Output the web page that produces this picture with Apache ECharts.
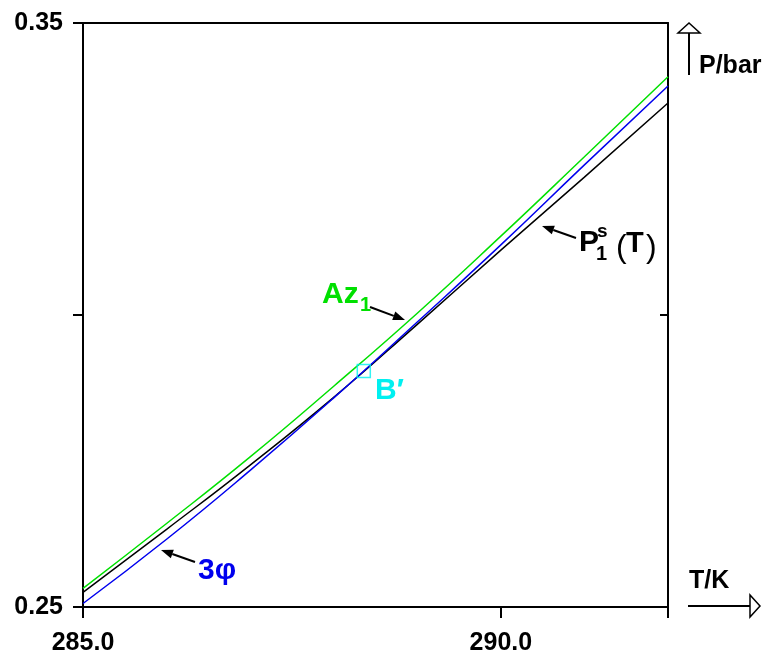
<!DOCTYPE html>
<html><head><meta charset="utf-8">
<script src="https://cdn.jsdelivr.net/npm/echarts@6/dist/echarts.min.js"></script>
<style>html,body{margin:0;padding:0;background:#fff}#c{width:767px;height:652px}</style>
</head><body><div id="c"></div>
<script>
const temps = [285, 286, 287, 288, 289, 290, 291, 292];
const az1 = [0.2532, 0.2643, 0.2757, 0.2878, 0.3003, 0.3135, 0.3271, 0.3408];
const p1s = [0.2525, 0.2633, 0.2743, 0.2859, 0.2984, 0.3111, 0.3236, 0.3363];
const phase3 = [0.2506, 0.2616, 0.2734, 0.2858, 0.2988, 0.3120, 0.3257, 0.3392];
const pointB = [288.36, 0.2904];
const xTicks = [285, 290];
const yTickLabels = ['0.25', '0.35'];

const FONT = '"Liberation Sans", Arial, sans-serif';
const chart = echarts.init(document.getElementById('c'), null, {renderer: 'canvas'});

function pairs(ys) { return temps.map((t, i) => [t, ys[i]]); }

function arrow(x1, y1, x2, y2) {
  const dx = x2 - x1, dy = y2 - y1, L = Math.hypot(dx, dy), ux = dx / L, uy = dy / L;
  const hl = 12, hw = 4.5;
  const bx = x2 - ux * hl, by = y2 - uy * hl;
  return [
    {type: 'line', shape: {x1: x1, y1: y1, x2: bx, y2: by}, style: {stroke: '#000', lineWidth: 2}},
    {type: 'polygon', shape: {points: [[x2, y2], [bx - uy * hw, by + ux * hw], [bx + uy * hw, by - ux * hw]]}, style: {fill: '#000'}}
  ];
}
function txt(s, x, y, size, color, weight) {
  return {type: 'text', style: {text: s, x: x, y: y, fontSize: size, fontWeight: weight || 'bold',
    fontFamily: FONT, fill: color, textVerticalAlign: 'middle', textAlign: 'left'}, z: 10};
}

const graphics = [].concat(
  // axis arrows
  [{type: 'line', shape: {x1: 689, y1: 75, x2: 689, y2: 33}, style: {stroke: '#000', lineWidth: 2}},
   {type: 'polygon', shape: {points: [[689, 23], [678, 33], [700, 33]]}, style: {fill: '#fff', stroke: '#000', lineWidth: 1.5}},
   {type: 'line', shape: {x1: 688, y1: 606, x2: 750, y2: 606}, style: {stroke: '#000', lineWidth: 2}},
   {type: 'polygon', shape: {points: [[760, 606], [750, 595], [750, 617]]}, style: {fill: '#fff', stroke: '#000', lineWidth: 1.5}}],
  [txt('P/bar', 699, 66, 25, '#000'), txt('T/K', 689, 581, 25, '#000')],
  // annotations
  arrow(370, 307, 405, 320),
  arrow(576, 238, 542, 226),
  arrow(195, 562, 161, 550),
  [txt('Az', 322, 295, 30, '#00e000'), txt('1', 360, 305, 20, '#00e000'),
   txt('3φ', 198, 571, 30, '#0000ee'),
   txt('B′', 375, 391, 30, '#00f0f0'),
   txt('P', 579, 243, 30, '#000'), txt('s', 597, 232, 19, '#000'), txt('1', 596, 254, 20, '#000'),
   txt('(', 616, 248, 32, '#000', 'normal'), txt('T', 626, 244, 29, '#000'), txt(')', 646, 248, 32, '#000', 'normal')]
);

const option = {
  animation: false,
  backgroundColor: '#fff',
  grid: {left: 83, right: 99, top: 23, bottom: 45, containLabel: false, outerBoundsMode: 'none'},
  xAxis: [
    {type: 'value', position: 'bottom', min: 285, max: 292, interval: 5,
     axisLine: {show: true, lineStyle: {color: '#000', width: 2}},
     axisTick: {show: true, inside: false, length: 11, lineStyle: {color: '#000', width: 2}},
     axisLabel: {show: true, margin: 24, color: '#000', fontSize: 25, fontWeight: 'bold', fontFamily: FONT,
       formatter: v => xTicks.includes(v) ? v.toFixed(1) : ''},
     splitLine: {show: false}},
    {type: 'value', position: 'top', min: 285, max: 292, interval: 5,
     axisLine: {show: true, lineStyle: {color: '#000', width: 2}},
     axisTick: {show: false}, axisLabel: {show: false}, splitLine: {show: false}}
  ],
  yAxis: [
    {type: 'value', position: 'left', min: 0.25, max: 0.35, interval: 0.05,
     axisLine: {show: true, lineStyle: {color: '#000', width: 2}},
     axisTick: {show: true, inside: false, length: 10, lineStyle: {color: '#000', width: 2}},
     axisLabel: {show: true, margin: 20, color: '#000', fontSize: 25, fontWeight: 'bold', fontFamily: FONT,
       formatter: v => { const s = v.toFixed(2); return yTickLabels.includes(s) ? s : ''; }},
     splitLine: {show: false}},
    {type: 'value', position: 'right', min: 0.25, max: 0.35, interval: 0.05,
     axisLine: {show: true, lineStyle: {color: '#000', width: 2}},
     axisTick: {show: true, inside: true, length: 8, lineStyle: {color: '#000', width: 2}},
     axisLabel: {show: false}, splitLine: {show: false}}
  ],
  series: [
    {type: 'line', name: 'P1s', data: pairs(p1s), smooth: true, showSymbol: false, xAxisIndex: 0, yAxisIndex: 0,
     lineStyle: {color: '#000', width: 1.5}, z: 2},
    {type: 'line', name: '3phi', data: pairs(phase3), smooth: true, showSymbol: false, xAxisIndex: 0, yAxisIndex: 0,
     lineStyle: {color: '#0000ee', width: 1.5}, z: 3},
    {type: 'line', name: 'Az1', data: pairs(az1), smooth: true, showSymbol: false, xAxisIndex: 0, yAxisIndex: 0,
     lineStyle: {color: '#00e000', width: 1.5}, z: 3},
    {type: 'scatter', name: "B'", data: [pointB], symbol: 'rect', symbolSize: 13, xAxisIndex: 0, yAxisIndex: 0,
     itemStyle: {color: 'rgba(0,0,0,0)', borderColor: '#00f0f0', borderWidth: 1.5}, z: 5}
  ],
  graphic: graphics
};
chart.setOption(option);
</script>
</body></html>
